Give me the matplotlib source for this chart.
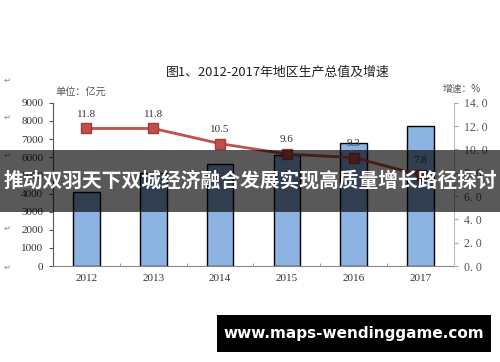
import matplotlib
matplotlib.use("Agg")
import matplotlib.pyplot as plt
from matplotlib.patches import Rectangle

plt.rcParams['font.family'] = ['Noto Sans CJK SC', 'DejaVu Sans']

years = ["2012", "2013", "2014", "2015", "2016", "2017"]
gdp = [4100, 5120, 5650, 6150, 6760, 7730]
growth = [11.8, 11.8, 10.5, 9.6, 9.3, 7.8]
left_ticks = [0, 1000, 2000, 3000, 4000, 5000, 6000, 7000, 8000, 9000]
right_ticks = [0, 2, 4, 6, 8, 10, 12, 14]

title = "图1、2012-2017年地区生产总值及增速"
banner = "推动双羽天下双城经济融合发展实现高质量增长路径探讨"
site = "www.maps-wendinggame.com"

serif = "Liberation Serif"

fig = plt.figure(figsize=(5, 3.62), dpi=100)
ax = fig.add_axes([0.106, 0.265, 0.802, 0.451])
x = range(len(years))

ax.bar(x, gdp, width=0.4, color="#8DB3E2", edgecolor="black", linewidth=1.0, zorder=2)
ax.set_xlim(-0.5, 5.5)
ax.set_ylim(0, 9000)
ax.set_yticks(left_ticks)
ax.set_yticklabels([str(v) for v in left_ticks], fontfamily=serif, fontsize=8, color="#333333")
ax.set_xticks(list(x))
ax.set_xticklabels(years, fontfamily=serif, fontsize=8, color="#333333")
ax.tick_params(axis="x", length=0, pad=6)
ax.set_xticks([i + 0.5 for i in range(5)], minor=True)
ax.tick_params(axis="x", which="minor", direction="in", length=2, color="#888888")
ax.tick_params(axis="y", length=3, color="#555555", pad=4)
for s in ["top", "right"]:
    ax.spines[s].set_visible(False)
ax.spines["left"].set_color("#555555")
ax.spines["bottom"].set_color("#888888")

ax2 = ax.twinx()
ax2.plot(x, growth, color="#C0504D", linewidth=2, marker="s", markersize=7,
         markerfacecolor="#C0504D", markeredgecolor="#A03C3A", zorder=3)
for xi, g in zip(x, growth):
    ax2.annotate(f"{g:.1f}", (xi, g), xytext=(0, 7), textcoords="offset points",
                 ha="center", va="bottom", fontfamily=serif, fontsize=8, color="#333333")
ax2.set_ylim(0, 14)
ax2.set_yticks(right_ticks)
ax2.set_yticklabels([f"{v:.1f}".replace(".", ". ") for v in right_ticks],
                    fontfamily=serif, fontsize=8.5, color="#555555")
ax2.tick_params(axis="y", length=3, color="#aaaaaa", pad=4)
for s in ["top", "left", "bottom"]:
    ax2.spines[s].set_visible(False)
ax2.spines["right"].set_color("#bbbbbb")

fig.text(0.556, 0.80, title, ha="center", va="center", fontsize=9.3, color="#222222")
fig.text(0.11, 0.746, "单位：亿元", ha="left", va="center", fontsize=7.3, color="#555555")
fig.text(0.962, 0.754, "增速：%", ha="right", va="center", fontsize=7, color="#555555")

for yy in [80, 117, 155, 228, 267]:
    fig.text(0.014, 1 - yy / 362, "↵", ha="center", va="center", fontsize=6,
             color="#888888", family="DejaVu Sans")

fig.patches.append(Rectangle((0, 0.414), 1, 0.171, transform=fig.transFigure,
                             facecolor="black", alpha=0.65, zorder=10))
fig.text(0.5, 1 - 181 / 362, banner, ha="center", va="center", fontsize=14.2,
         fontweight="bold", color="white", zorder=11)

fig.patches.append(Rectangle((0.434, 0.0276), 0.548, 0.102, transform=fig.transFigure,
                             facecolor="black", zorder=10))
fig.text(0.708, 0.0786, site, ha="center", va="center", fontsize=11,
         fontweight="bold", color="white", family="DejaVu Sans", zorder=11)

fig.savefig("out.png", dpi=100)
